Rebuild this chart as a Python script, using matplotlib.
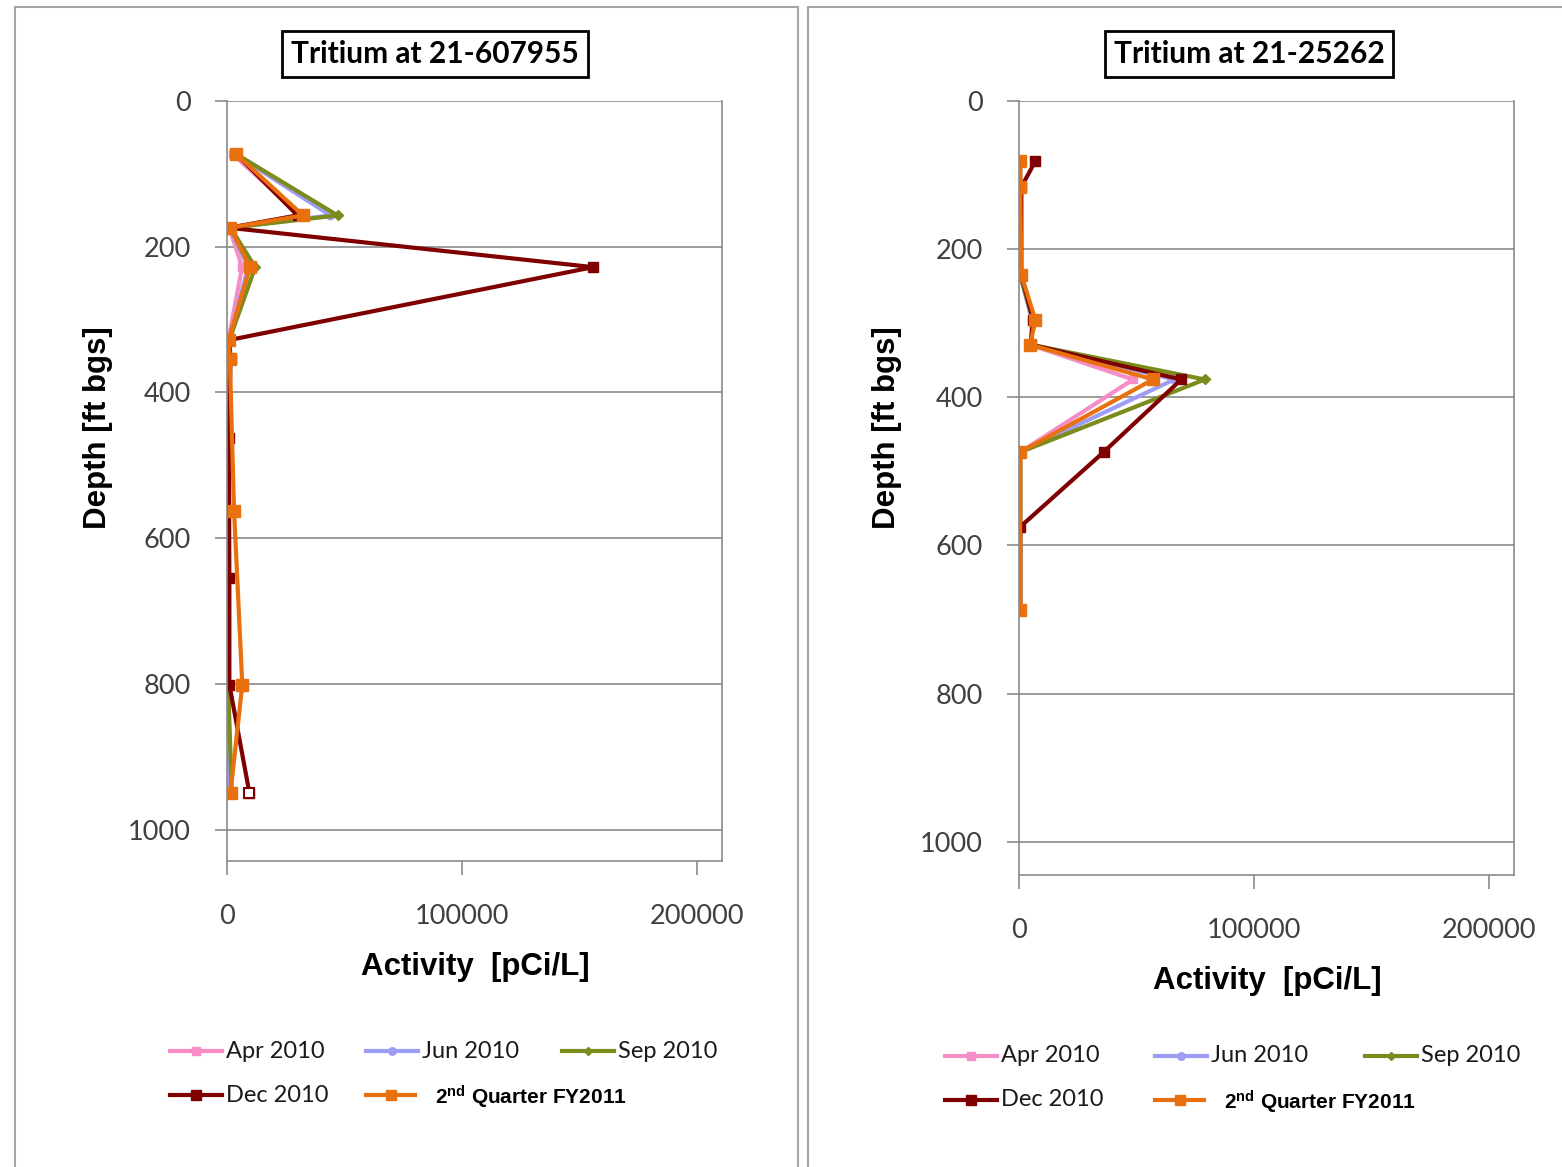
import numpy as np
import matplotlib
matplotlib.use("Agg")
import matplotlib.pyplot as plt
from matplotlib.lines import Line2D
from matplotlib.patches import Rectangle

plt.rcParams["mathtext.fontset"] = "custom"
plt.rcParams["mathtext.bf"] = "Liberation Sans:bold"
plt.rcParams["mathtext.rm"] = "Liberation Sans"

W, H = 1562, 1167

# ── data: left well 21-607955 ─────────────────────────────────
depth_l = [73, 157, 174, 228, 328, 354, 462, 562, 654, 801, 949]
apr_l   = [2500, 31000, 1000, 6400, 600, 500, 300, 300, 300, 300, 200]
jun_l   = [3500, 44000, 1200, 9000, 800, 600, 400, 400, 400, 300, 300]
sep_l   = [4000, 47000, 1500, 12000, 1000, 800, 500, 600, 500, 500, 2000]
dec_l   = [4000, 30000, 1000, 155700, 1000, 1500, 800, 900, 1000, 1000, 9500]
q2_l    = [4000, 32300, 1300, 9800, 700, 1200, np.nan, 3000, np.nan, 6500, 1500]

# ── data: right well 21-25262 ─────────────────────────────────
depth_r = [81, 116, 235, 296, 329, 376, 474, 575, 687]
apr_r   = [500, 500, 500, 6500, 4500, 48500, 500, 500, 500]
jun_r   = [500, 500, 500, 5500, 5000, 66000, 500, 500, 500]
sep_r   = [500, 500, 500, 6000, 5000, 79000, 600, np.nan, 500]
dec_r   = [7000, 1000, 1000, 6000, 5000, 69000, 36000, 500, 500]
q2_r    = [500, 500, 1000, 7000, 4700, 57000, 500, np.nan, 500]

labels  = ["Apr 2010", "Jun 2010", "Sep 2010", "Dec 2010",
           r"$\mathbf{2^{nd}}$ Quarter FY2011"]
colors  = ["#F68DC6", "#9D9DF5", "#7B8B1C", "#7F0000", "#E8700F"]
markers = ["s", "o", "D", "s", "s"]
msizes  = [6, 6, 5, 7.5, 8.5]

GRID = "#8A8A8A"
FONT = "Lato"


def px(x, y):
    return x / W, 1 - y / H


fig = plt.figure(figsize=(W / 100, H / 100), dpi=100)
fig.patch.set_facecolor("white")

# panel borders
for x0, x1 in [(15, 798), (808, 1580)]:
    fig.add_artist(Rectangle(px(x0, 1200), (x1 - x0) / W, (1200 - 7) / H,
                             transform=fig.transFigure, fill=False,
                             edgecolor="#A6A6A6", lw=1.5))


def panel(rect, depth, series, title, tcx, ylab_x, xlab_x, xlab_y, ymax):
    ax = fig.add_axes(rect)
    for vals, c, m, ms in zip(series, colors, markers, msizes):
        d = np.array(depth, float)
        v = np.array(vals, float)
        ok = ~np.isnan(v)
        ax.plot(v[ok], d[ok], color=c, lw=3, marker=m, ms=ms,
                mec=c, mfc=c, solid_joinstyle="miter")
    ax.set_xlim(0, 210500)
    ax.set_ylim(ymax, 0)
    ax.set_xticks([0, 100000, 200000])
    ax.set_yticks([0, 200, 400, 600, 800, 1000])
    ax.grid(axis="y", color=GRID, lw=1.2)
    ax.set_axisbelow(True)
    for s in ["left", "bottom", "right"]:
        ax.spines[s].set_color(GRID)
        ax.spines[s].set_linewidth(1.2)
    ax.spines["top"].set_visible(False)
    ax.tick_params(axis="y", length=9, width=1.2, color=GRID, pad=17,
                   labelsize=19.5, labelcolor="#404040")
    ax.tick_params(axis="x", length=10, width=1.2, color=GRID, pad=21,
                   labelsize=19.5, labelcolor="#404040")
    for t in ax.get_xticklabels() + ax.get_yticklabels():
        t.set_fontfamily(FONT)
    fig.text(*px(tcx, 54), title, ha="center", va="center",
             fontsize=21.5, fontfamily=FONT, fontweight="bold",
             bbox=dict(boxstyle="square,pad=0.3", fc="white",
                       ec="black", lw=2))
    fig.text(*px(ylab_x, 428), "Depth [ft bgs]", rotation=90,
             ha="center", va="center", fontsize=22.5,
             fontfamily="Liberation Sans", fontweight="bold")
    fig.text(*px(xlab_x, xlab_y), "Activity  [pCi/L]", ha="center",
             va="center", fontsize=22.5, fontfamily="Liberation Sans",
             fontweight="bold")
    return ax


ax_l = panel([227 / W, 1 - 861 / H, 495 / W, 760 / H], depth_l,
             [apr_l, jun_l, sep_l, dec_l, q2_l],
             "Tritium at 21-607955", 435, 98, 475, 967, 1043)
ax_r = panel([1019 / W, 1 - 875 / H, 495 / W, 774 / H], depth_r,
             [apr_r, jun_r, sep_r, dec_r, q2_r],
             "Tritium at 21-25262", 1249, 887, 1267, 981, 1045)

# open marker at the deepest Dec 2010 sample (left well)
ax_l.plot(dec_l[-1], depth_l[-1], "s", ms=7.5, mec=colors[3], mfc="white",
          mew=1.5)


def legend(x0, y0, step):
    # Excel-style legend: three entries on the first row, two on the second
    slots = [(x0, y0), (x0 + step, y0), (x0 + 2 * step, y0),
             (x0, y0 + 44), (x0 + step, y0 + 44)]
    for i, (sx, sy) in enumerate(slots):
        ln = 52 if i != 4 else 49
        xa, ya = px(sx, sy)
        xb, _ = px(sx + ln, sy)
        fig.add_artist(Line2D([xa, xb], [ya, ya], transform=fig.transFigure,
                              color=colors[i], lw=3))
        fig.add_artist(Line2D([(xa + xb) / 2], [ya], transform=fig.transFigure,
                              color=colors[i], marker=markers[i],
                              ms=msizes[i] * 0.9, mec=colors[i], mfc=colors[i]))
        if i == 4:
            fig.text(*px(sx + 69, sy + 2), labels[i], ha="left", va="center",
                     fontsize=15, fontfamily="Liberation Sans",
                     fontweight="bold")
        else:
            fig.text(*px(sx + ln + 4, sy), labels[i], ha="left", va="center",
                     fontsize=17, fontfamily=FONT, color="#1A1A1A")


legend(170, 1051, 196)
legend(945, 1056, 210)

fig.savefig("out.png", dpi=100, facecolor="white")
